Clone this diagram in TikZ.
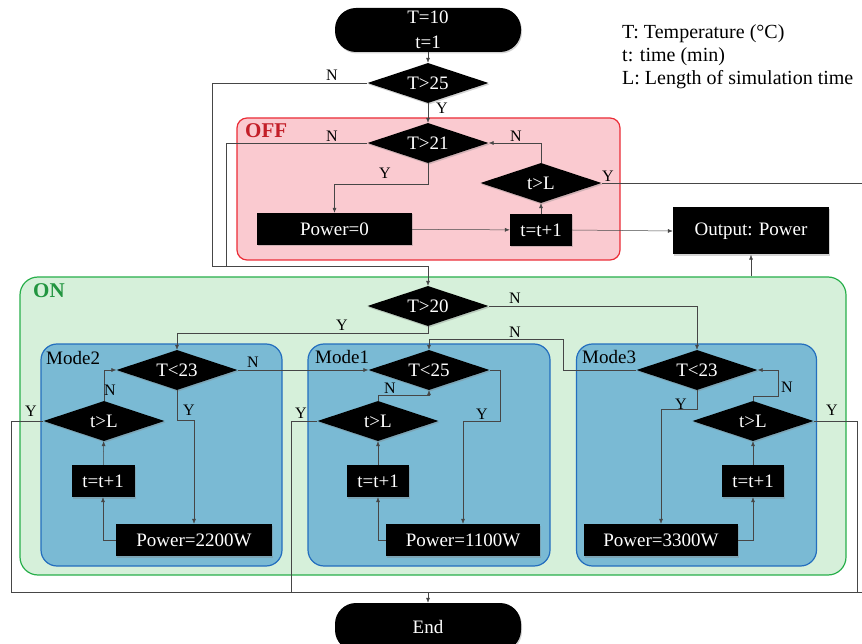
\documentclass[tikz,border=0pt]{standalone}
\usepackage{fontspec}
\setmainfont{Liberation Serif}
\usetikzlibrary{positioning,arrows.meta,shapes.geometric,shadows,backgrounds}
\definecolor{cOffFill}{RGB}{250,202,208}
\definecolor{cOffLine}{RGB}{235,45,55}
\definecolor{cOffText}{RGB}{195,30,40}
\definecolor{cOnFill}{RGB}{214,240,218}
\definecolor{cOnLine}{RGB}{40,175,75}
\definecolor{cModeFill}{RGB}{122,186,212}
\definecolor{cModeLine}{RGB}{35,110,190}
\definecolor{cWire}{RGB}{70,70,70}

\begin{document}
\begin{tikzpicture}[x=1pt,y=-1pt,
  base/.style={fill=black,text=white,inner sep=0pt,font=\fontsize{19}{25}\selectfont,
               drop shadow={shadow xshift=1pt,shadow yshift=-1.5pt,opacity=.35}},
  term/.style={base,rounded corners=21pt,minimum width=186pt,minimum height=44pt,align=center},
  dec/.style={base,diamond,aspect=3,minimum width=121pt,minimum height=40pt},
  proc/.style={base,rectangle,minimum height=32pt},
  grp/.style={rectangle,rounded corners=#1,line width=1.2pt},
  grp/.default=16pt,
  ar/.style={draw=cWire,line width=0.5pt,-{Latex[length=5pt,width=4pt]}},
  ln/.style={draw=cWire,line width=0.5pt},
  yn/.style={font=\fontsize{16}{16}\selectfont,inner sep=0pt},
  tag/.style={font=\fontsize{21}{21}\selectfont\bfseries,inner sep=0pt,anchor=west},
  mtag/.style={font=\fontsize{19}{19}\selectfont,inner sep=0pt,anchor=west}]
\useasboundingbox (0,0) rectangle (862,644);
\node[term] (start) at (428,30) {T=10\\t=1};
\node[dec] (d25) at (428,83) {T>25};
\node[dec] (d21) at (428,143) {T>21};
\node[dec] (tl0) at (541,183) {t>L};
\node[proc,minimum width=155pt] (pw0) at (334.5,229) {Power=0};
\node[proc,minimum width=62pt] (inc0) at (541,230) {t=t+1};
\node[proc,minimum width=156pt,minimum height=47pt] (out) at (751,231) {Output: Power};
\node[dec] (d20) at (428,306) {T>20};
\node[dec] (cmp2) at (177,370) {T<23};
\node[dec] (tl2) at (104,421) {t>L};
\node[proc,minimum width=63pt] (inc2) at (103,481) {t=t+1};
\node[proc,minimum width=156pt] (pw2) at (194,540) {Power=2200W};
\node[dec] (cmp1) at (429,370) {T<25};
\node[dec] (tl1) at (378,421) {t>L};
\node[proc,minimum width=62pt] (inc1) at (378,481) {t=t+1};
\node[proc,minimum width=154pt] (pw1) at (463,540) {Power=1100W};
\node[dec] (cmp3) at (697,370) {T<23};
\node[dec] (tl3) at (753,421) {t>L};
\node[proc,minimum width=62pt] (inc3) at (753,481) {t=t+1};
\node[proc,minimum width=154pt] (pw3) at (661,540) {Power=3300W};
\node[term,minimum height=48pt] (end) at (428,627) {End};
\node[anchor=north west,align=left,inner sep=0pt,font=\fontsize{20}{23}\selectfont]
  (legend) at (622,24) {T: Temperature (°C)\\t: time (min)\\L: Length of simulation time};
\node[tag,text=cOffText] (offlbl) at (245,131) {OFF};
\node[tag,text=cOnLine!85!black] (onlbl) at (33,291) {ON};
\node[mtag] (m2lbl) at (46,358) {Mode2};
\node[mtag] (m1lbl) at (315,357) {Mode1};
\node[mtag] (m3lbl) at (582,357) {Mode3};
\coordinate (j0) at (212,266);
\coordinate (j1) at (226,266);
\coordinate (m0) at (428,266);
\coordinate (k1) at (500,421);
\coordinate (k3) at (563,339);
\coordinate (k4) at (778,396);
\coordinate (c2) at (11,592);
\coordinate (c1) at (291,592);
\coordinate (c3) at (857,592);
\coordinate (c0) at (864,592);
\draw[ar] (start) -- (d25);
\draw[ar] (d25) -- (d21);
\draw[ln] (d25.west) -| (j0) -- (m0);
\draw[ln] (d21.west) -| (j1);
\draw[ar] (m0) -- (d20.north);
\draw[ar] (d21.south) -- ++(0,21) -| (pw0.north);
\draw[ar] (pw0) -- (inc0);
\draw[ar] (tl0.north) |- (d21.east);
\draw[ln] (tl0.east) -| (c0);
\draw[ar] (inc0.east) -- (out.west);
\draw[ar] (d20.east) -| (cmp3.north);
\draw[ar] (d20.south) -- ++(0,7) -| (cmp2.north);
\draw[ar] (cmp2.east) -- (cmp1.west);
\draw[ar] (cmp3.west) -| (k3) -| (cmp1.north);
\draw[ar] (cmp1.east) -| (k1) -| (pw1.north);
\draw[ar] (cmp2.south) -- ++(0,30) -| (pw2.north);
\draw[ar] (cmp3.south) -- ++(0,19) -| (pw3.north);
\draw[ar] (pw2.west) -| (inc2.south);
\draw[ar] (pw1.west) -| (inc1.south);
\draw[ar] (pw3.east) -| (inc3.south);
\foreach \m in {0,1,2,3} \draw[ar] (inc\m) -- (tl\m);
\draw[ar] (tl2.north) |- (cmp2.west);
\draw[ar] (tl1.north) -- ++(0,-6) -| (cmp1.south);
\draw[ar] (tl3.north) |- (k4) |- (cmp3.east);
\draw[ln] (tl2.west) -| (c2);
\draw[ln] (tl1.west) -| (c1);
\draw[ln] (tl3.east) -| (c3);
\draw[ln] (c2) -- (c0);
\draw[ar] (end.north |- c2) -- (end.north);
\node[yn] (n25) at (332,75) {N};
\node[yn] (y25) at (442,108) {Y};
\node[yn] (n21) at (332,136) {N};
\node[yn] (y21) at (385,173) {Y};
\node[yn] (n0) at (516,136) {N};
\node[yn] (y0) at (608,176) {Y};
\node[yn] (n20) at (515,298) {N};
\node[yn] (y20) at (342,325) {Y};
\node[yn] (nc2) at (253,362) {N};
\node[yn] (yc2) at (189,410) {Y};
\node[yn] (nc3) at (515,332) {N};
\node[yn] (yc1) at (482,414) {Y};
\node[yn] (yc3) at (681,404) {Y};
\node[yn] (nt2) at (110,390) {N};
\node[yn] (yt2) at (31,411) {Y};
\node[yn] (nt1) at (390,388) {N};
\node[yn] (yt1) at (301,413) {Y};
\node[yn] (nt3) at (787,387) {N};
\node[yn] (yt3) at (832,410) {Y};
\begin{scope}[on background layer]
\node[grp=10pt,draw=cOffLine,fill=cOffFill,minimum width=383pt,minimum height=142pt] (offbox) at (428.5,189) {};
\node[grp=18pt,draw=cOnLine,fill=cOnFill,minimum width=826pt,minimum height=298pt] (onbox) at (433,426) {};
\node[grp,draw=cModeLine,fill=cModeFill,minimum width=241pt,minimum height=222pt] (mode2) at (161.5,455) {};
\node[grp,draw=cModeLine,fill=cModeFill,minimum width=242pt,minimum height=222pt] (mode1) at (429,455) {};
\node[grp,draw=cModeLine,fill=cModeFill,minimum width=240pt,minimum height=222pt] (mode3) at (696.5,455) {};
\end{scope}
\draw[ar] (out.south |- onbox.north) -- (out.south);
\end{tikzpicture}
\end{document}
